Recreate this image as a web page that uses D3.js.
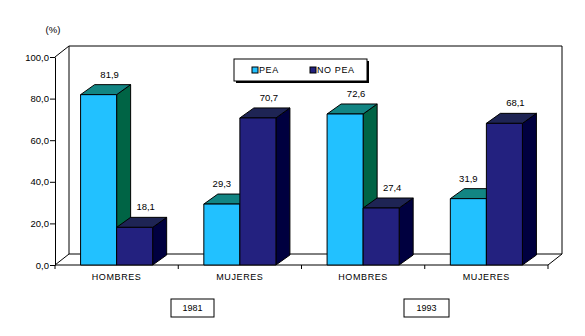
<!DOCTYPE html>
<html>
<head>
<meta charset="utf-8">
<script src="https://cdn.jsdelivr.net/npm/d3@7"></script>
<style>
  html, body { margin: 0; padding: 0; background: #fff; }
  svg { display: block; font-family: Arial, "Liberation Sans", sans-serif; }
</style>
</head>
<body>
<svg id="chart" width="585" height="336"></svg>
<script>
// Population economically active (PEA) vs. not active, by sex, 1981 and 1993
const categories = ["HOMBRES", "MUJERES", "HOMBRES", "MUJERES"];
const series = ["PEA", "NO PEA"];
const peaValues = [81.9, 29.3, 72.6, 31.9];
const noPeaValues = [18.1, 70.7, 27.4, 68.1];
const years = ["1981", "1993"];
const yTicks = [0, 20, 40, 60, 80, 100];

const colors = {
  "PEA":    { front: "#22C1FF", top: "#128583", side: "#006445" },
  "NO PEA": { front: "#23217F", top: "#1E2454", side: "#00003F" }
};

const svg = d3.select("#chart");
const plotLeft = 55, plotRight = 548, plotBottom = 265, plotTop = 57;
const wallDx = 14, wallDy = 11;   // depth of back wall / floor
const barDx = 14, barDy = 10;     // depth of each bar

const x0 = d3.scaleBand().domain(d3.range(categories.length)).range([plotLeft, plotRight]).padding(0);
const x1 = d3.scaleBand().domain(series).range([0, x0.bandwidth()]).paddingInner(0).paddingOuter(0.71);
const y = d3.scaleLinear().domain([0, 100]).range([plotBottom, plotTop]);

const line = (pts) => "M" + pts.map(p => p.join(",")).join("L");

// Back wall, left wall and floor outlines
const g = svg.append("g").attr("fill", "none").attr("stroke", "#000").attr("stroke-width", 1);
const bx0 = plotLeft + wallDx, bx1 = plotRight + wallDx;
const byTop = y(100) - wallDy, byBot = plotBottom - wallDy;
g.append("path").attr("d", line([[bx0, byBot], [bx0, byTop], [bx1, byTop], [bx1, byBot], [bx0, byBot]]));
g.append("path").attr("d", line([[plotLeft, y(100)], [bx0, byTop]]));
g.append("path").attr("d", line([[plotLeft, plotBottom], [bx0, byBot]]));
g.append("path").attr("d", line([[plotRight, plotBottom], [bx1, byBot]]));

// Y axis
const fmt = d => d3.format(".1f")(d).replace(".", ",");
const yAxis = d3.axisLeft(y).tickValues(yTicks).tickFormat(fmt).tickSize(5).tickSizeOuter(0);
const ya = svg.append("g").attr("transform", `translate(${plotLeft},0)`).call(yAxis);
ya.select(".domain").attr("stroke", "#000");
ya.selectAll("text").attr("font-size", 9.5).attr("fill", "#000").attr("x", -6);
ya.selectAll("line").attr("stroke", "#000");

svg.append("text").attr("x", 53).attr("y", 33).attr("text-anchor", "middle")
  .attr("font-size", 9.5).text("(%)");

// X axis baseline and category ticks
svg.append("line").attr("x1", plotLeft).attr("x2", plotRight).attr("y1", plotBottom).attr("y2", plotBottom).attr("stroke", "#000");
const bounds = d3.range(categories.length + 1).map(i => i < categories.length ? x0(i) : plotRight);
svg.append("g").selectAll("line").data(bounds).join("line")
  .attr("x1", d => d).attr("x2", d => d).attr("y1", plotBottom).attr("y2", plotBottom + 4).attr("stroke", "#000");
svg.append("g").selectAll("text").data(categories).join("text")
  .attr("x", (d, i) => x0(i) + x0.bandwidth() / 2)
  .attr("y", 280).attr("text-anchor", "middle")
  .attr("font-size", 9).attr("letter-spacing", 0.6).text(d => d);

// 3D bars, drawn left to right so nearer faces overlap correctly
const bars = [];
categories.forEach((c, i) => {
  bars.push({ i, s: "PEA", v: peaValues[i], next: noPeaValues[i] });
  bars.push({ i, s: "NO PEA", v: noPeaValues[i], next: null });
});
const bg = svg.append("g").attr("stroke", "#000").attr("stroke-width", 1).attr("stroke-linejoin", "round");
bars.forEach(b => {
  const xa = x0(b.i) + x1(b.s), xb = xa + x1.bandwidth();
  const yt = y(b.v), yb = y(0);
  const col = colors[b.s];
  bg.append("path").attr("fill", col.side)
    .attr("d", line([[xb, yb], [xb, yt], [xb + barDx, yt - barDy], [xb + barDx, yb - barDy]]) + "Z");
  bg.append("path").attr("fill", col.top)
    .attr("d", line([[xa, yt], [xa + barDx, yt - barDy], [xb + barDx, yt - barDy], [xb, yt]]) + "Z");
  bg.append("rect").attr("fill", col.front)
    .attr("x", xa).attr("y", yt).attr("width", xb - xa).attr("height", yb - yt);
});

// Value labels above each bar; a label sits back over the bar's depth unless
// the taller neighbouring bar would cover it
const labelShift = b => (b.next !== null && b.next > b.v) ? 0 : 11;
svg.append("g").selectAll("text").data(bars).join("text")
  .attr("x", b => x0(b.i) + x1(b.s) + x1.bandwidth() / 2 + labelShift(b))
  .attr("y", b => y(b.v) - barDy - 7)
  .attr("text-anchor", "middle").attr("font-size", 9.5)
  .text(b => fmt(b.v));

// Legend with drop shadow
const lg = svg.append("g").attr("transform", "translate(234,59)");
lg.append("rect").attr("x", 2).attr("y", 2).attr("width", 133).attr("height", 22).attr("fill", "#000");
lg.append("rect").attr("x", 0).attr("y", 0).attr("width", 133).attr("height", 22).attr("fill", "#fff").attr("stroke", "#000");
const items = lg.selectAll("g.item").data(series).join("g").attr("class", "item")
  .attr("transform", (d, i) => `translate(${i === 0 ? 18 : 76},0)`);
items.append("rect").attr("x", 0).attr("y", 8).attr("width", 6).attr("height", 6)
  .attr("fill", d => colors[d].front).attr("stroke", "#000");
items.append("text").attr("x", 7).attr("y", 14).attr("font-size", 9).attr("letter-spacing", 0.6).text(d => d);

// Year boxes below the categories
const yearCenters = [192.5, 426.5];
const yb = svg.append("g").selectAll("g").data(years).join("g")
  .attr("transform", (d, i) => `translate(${yearCenters[i]},308)`);
yb.append("rect").attr("x", (d, i) => i === 0 ? -21.5 : -22.5).attr("y", -9)
  .attr("width", (d, i) => i === 0 ? 43 : 45).attr("height", 18).attr("fill", "#fff").attr("stroke", "#000");
yb.append("text").attr("y", 3).attr("text-anchor", "middle").attr("font-size", 9).text(d => d);
</script>
</body>
</html>
